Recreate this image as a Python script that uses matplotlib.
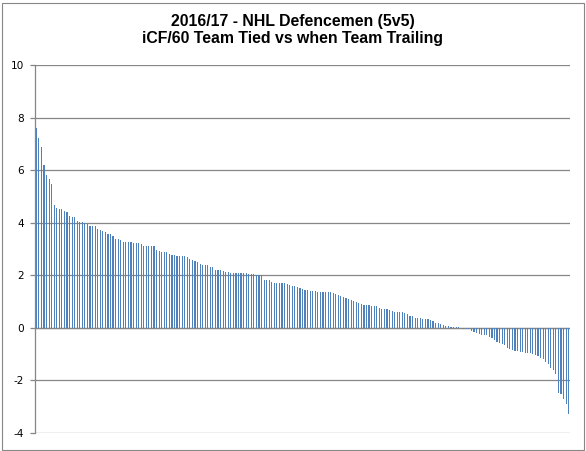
import matplotlib
matplotlib.use("Agg")
import matplotlib.pyplot as plt
from matplotlib.patches import Rectangle
import numpy as np

title = "2016/17 - NHL Defencemen (5v5)\niCF/60 Team Tied vs when Team Trailing"

values_a = [7.61, 7.23, 6.89, 6.20, 5.82, 5.67, 5.48, 4.68, 4.55, 4.53,
            4.53, 4.45, 4.42, 4.24, 4.20, 4.20, 4.08, 4.04, 4.04, 3.98,
            3.96, 3.88, 3.86, 3.86, 3.75]
values_b = [3.73, 3.67, 3.63, 3.58, 3.58, 3.50, 3.39, 3.39, 3.34, 3.25,
            3.25, 3.25, 3.25, 3.21, 3.21, 3.21, 3.19, 3.12, 3.12, 3.12,
            3.12, 3.12, 2.97, 2.93, 2.88, 2.88, 2.87, 2.81, 2.76, 2.76,
            2.75, 2.72, 2.72, 2.72, 2.71, 2.63, 2.59, 2.55, 2.49]
values_c = [2.44, 2.40, 2.40, 2.40, 2.30, 2.30, 2.21, 2.21, 2.19, 2.17,
            2.14, 2.14, 2.10, 2.10, 2.10, 2.10, 2.10, 2.07, 2.07, 2.03,
            2.03, 2.03, 2.01, 2.01, 2.01, 1.83, 1.83, 1.81, 1.76, 1.72,
            1.69, 1.69, 1.69, 1.69, 1.67, 1.63, 1.61, 1.61]
values_d = [1.56, 1.50, 1.48, 1.45, 1.45, 1.42, 1.42, 1.42, 1.38, 1.38,
            1.38, 1.35, 1.35, 1.35, 1.31, 1.30, 1.26, 1.23, 1.18, 1.14,
            1.11, 1.07, 1.04, 0.99, 0.95, 0.91, 0.88, 0.88, 0.86, 0.85,
            0.82, 0.82, 0.76, 0.73, 0.73, 0.73, 0.67, 0.64, 0.62]
values_e = [0.62, 0.62, 0.62, 0.56, 0.53, 0.47, 0.47, 0.39, 0.39, 0.39,
            0.33, 0.33, 0.32, 0.28, 0.25, 0.20, 0.20, 0.13, 0.10, 0.08,
            0.08, 0.05, 0.04, 0.04, 0.02, -0.01, -0.05, -0.05, -0.05, -0.11,
            -0.15, -0.20, -0.24, -0.27, -0.27, -0.27]
values_f = [-0.34, -0.38, -0.47, -0.53, -0.57, -0.61, -0.67, -0.76, -0.80, -0.86,
            -0.89, -0.89, -0.91, -0.91, -0.95, -0.95, -0.95, -1.01, -1.05, -1.08,
            -1.14, -1.20, -1.29, -1.37, -1.52, -1.61, -1.77, -2.47, -2.53, -2.72,
            -2.91, -3.29]

values = values_a + values_b + values_c + values_d + values_e + values_f
yticks = [-4, -2, 0, 2, 4, 6, 8, 10]

W, H = 586, 451
fig = plt.figure(figsize=(W / 100, H / 100), dpi=100)
fig.patch.set_facecolor("white")

# chart-area border
fig.patches.append(Rectangle((1.5 / W, 1.5 / H), (W - 4) / W, (H - 4) / H,
                             transform=fig.transFigure, fill=False,
                             edgecolor="#868686", linewidth=0.8))

ax = fig.add_axes([35 / W, 18 / H, 535 / W, 368 / H])
n = len(values)
x = np.arange(n)
ax.bar(x, values, width=0.45, color="#4F81BD", linewidth=0, zorder=3,
       antialiased=False)

ax.set_xlim(-0.5, n - 0.5)
ax.set_ylim(-4, 10)
ax.set_yticks(yticks)
ax.set_yticklabels([str(t) for t in yticks], fontsize=7.6, family="DejaVu Sans")
ax.yaxis.grid(True, color="#868686", linewidth=0.9, zorder=0)
ax.set_axisbelow(True)
ax.axhline(0, color="#868686", linewidth=0.9, zorder=2)
ax.set_xticks([])
for s in ["top", "right", "bottom"]:
    ax.spines[s].set_visible(False)
ax.spines["left"].set_color("#868686")
ax.spines["left"].set_linewidth(0.9)
ax.tick_params(axis="y", length=3.6, width=0.9, color="#868686", pad=4.5)

fig.text(0.5, 1 - 30 / H, title, ha="center", va="center", fontsize=11.4,
         fontweight="bold", family="Liberation Sans", linespacing=1.1)

fig.savefig("out.png", dpi=100)
